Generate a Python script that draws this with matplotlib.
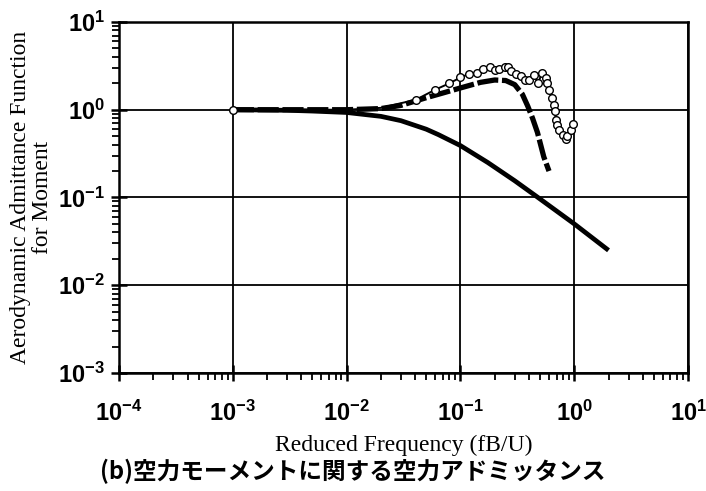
import matplotlib.pyplot as plt
from matplotlib.ticker import LogLocator, NullFormatter
import numpy as np

plt.rcParams['mathtext.fontset'] = 'custom'
plt.rcParams['mathtext.rm'] = 'Liberation Sans:bold'
plt.rcParams['mathtext.it'] = 'Liberation Sans:bold'
plt.rcParams['mathtext.bf'] = 'Liberation Sans:bold'

# reduced frequency fB/U and admittance values
freq_theory = [1e-3, 3e-3, 5e-3, 1e-2, 0.02, 0.03, 0.05, 0.064, 0.1,
               0.174, 0.3, 0.48, 1.0, 2.0]
adm_theory = [1.0, 0.985, 0.965, 0.93, 0.84, 0.75, 0.6, 0.52, 0.39,
              0.25, 0.155, 0.1, 0.05, 0.025]

freq_dash = [1e-3, 1e-2, 0.02, 0.03, 0.05, 0.07, 0.1, 0.15, 0.2, 0.25, 0.3,
             0.35, 0.39, 0.43, 0.475, 0.54, 0.6]
adm_dash = [1.0, 1.0, 1.03, 1.12, 1.37, 1.55, 1.77, 2.05, 2.18, 2.15, 1.93,
            1.5, 1.1, 0.8, 0.55, 0.29, 0.2]

freq_exp = [1e-3, 1e-2, 0.02, 0.0406, 0.06, 0.08, 0.1, 0.12, 0.139, 0.157, 0.18,
            0.2, 0.22, 0.245, 0.26, 0.278, 0.307, 0.338, 0.37, 0.40, 0.44,
            0.48, 0.52, 0.56, 0.58, 0.6, 0.64, 0.66, 0.68, 0.685, 0.71,
            0.74, 0.79, 0.84, 0.87, 0.94, 0.97]
adm_exp = [1.0, 1.0, 1.05, 1.3, 1.69, 2.0, 2.33, 2.57, 2.62, 2.9, 3.06,
           2.8, 2.9, 3.06, 3.06, 2.73, 2.55, 2.4, 2.16, 2.2, 2.5,
           2.0, 2.62, 2.3, 2.0, 1.69, 1.36, 1.14, 0.96, 0.77, 0.67,
           0.59, 0.52, 0.46, 0.5, 0.59, 0.69]

x_ticks = [1e-4, 1e-3, 1e-2, 1e-1, 1e0, 1e1]
y_ticks = [1e-3, 1e-2, 1e-1, 1e0, 1e1]

fig = plt.figure(figsize=(7.06, 4.91), dpi=100)
ax = fig.add_axes([0.1686, 0.2403, 0.806, 0.715])

ax.plot(freq_theory, adm_theory, color='black', lw=3.4, solid_capstyle='butt',
        solid_joinstyle='round')
ax.plot(freq_dash, adm_dash, color='black', lw=3.8, ls=(0, (4, 0.7)))
marks = [0] + list(range(3, len(freq_exp)))
ax.plot(freq_exp, adm_exp, color='black', lw=1.4, marker='o', ms=5.5,
        mfc='white', mec='black', mew=1.0, markevery=marks)

ax.set_xscale('log')
ax.set_yscale('log')
ax.set_xlim(1e-4, 1e1)
ax.set_ylim(1e-3, 1e1)
ax.set_xticks(x_ticks)
ax.set_yticks(y_ticks)
ax.set_xticklabels([r'$10^{%d}$' % e for e in np.log10(x_ticks).round().astype(int)])
ax.set_yticklabels([r'$10^{%d}$' % e for e in np.log10(y_ticks).round().astype(int)])
for axis in [ax.xaxis, ax.yaxis]:
    axis.set_minor_locator(LogLocator(base=10, subs=np.arange(2, 10), numticks=100))
    axis.set_minor_formatter(NullFormatter())
ax.grid(True, which='major', color='black', lw=1.3)
ax.set_axisbelow(True)

for side in ['left', 'bottom', 'top', 'right']:
    ax.spines[side].set_linewidth(1.8)
ax.tick_params(which='major', direction='inout', length=12, width=1.8,
               top=False, right=False, labelsize=17)
ax.tick_params(axis='x', which='major', pad=14)
ax.tick_params(axis='y', which='major', pad=4)
ax.tick_params(which='minor', direction='out', length=5, width=1.3,
               top=False, right=False)

ax.set_xlabel('Reduced Frequency (fB/U)', fontfamily='Liberation Serif',
              fontsize=17, labelpad=6)
ax.set_ylabel('Aerodynamic Admittance Function\nfor Moment',
              fontfamily='Liberation Serif', fontsize=17, labelpad=4,
              linespacing=1.05)

fig.text(0.5, 0.04, '(b)空力モーメントに関する空力アドミッタンス',
         ha='center', va='center', fontsize=17, fontweight='bold',
         family=['Noto Sans CJK JP', 'DejaVu Sans'])

fig.savefig('out.png', dpi=100)
